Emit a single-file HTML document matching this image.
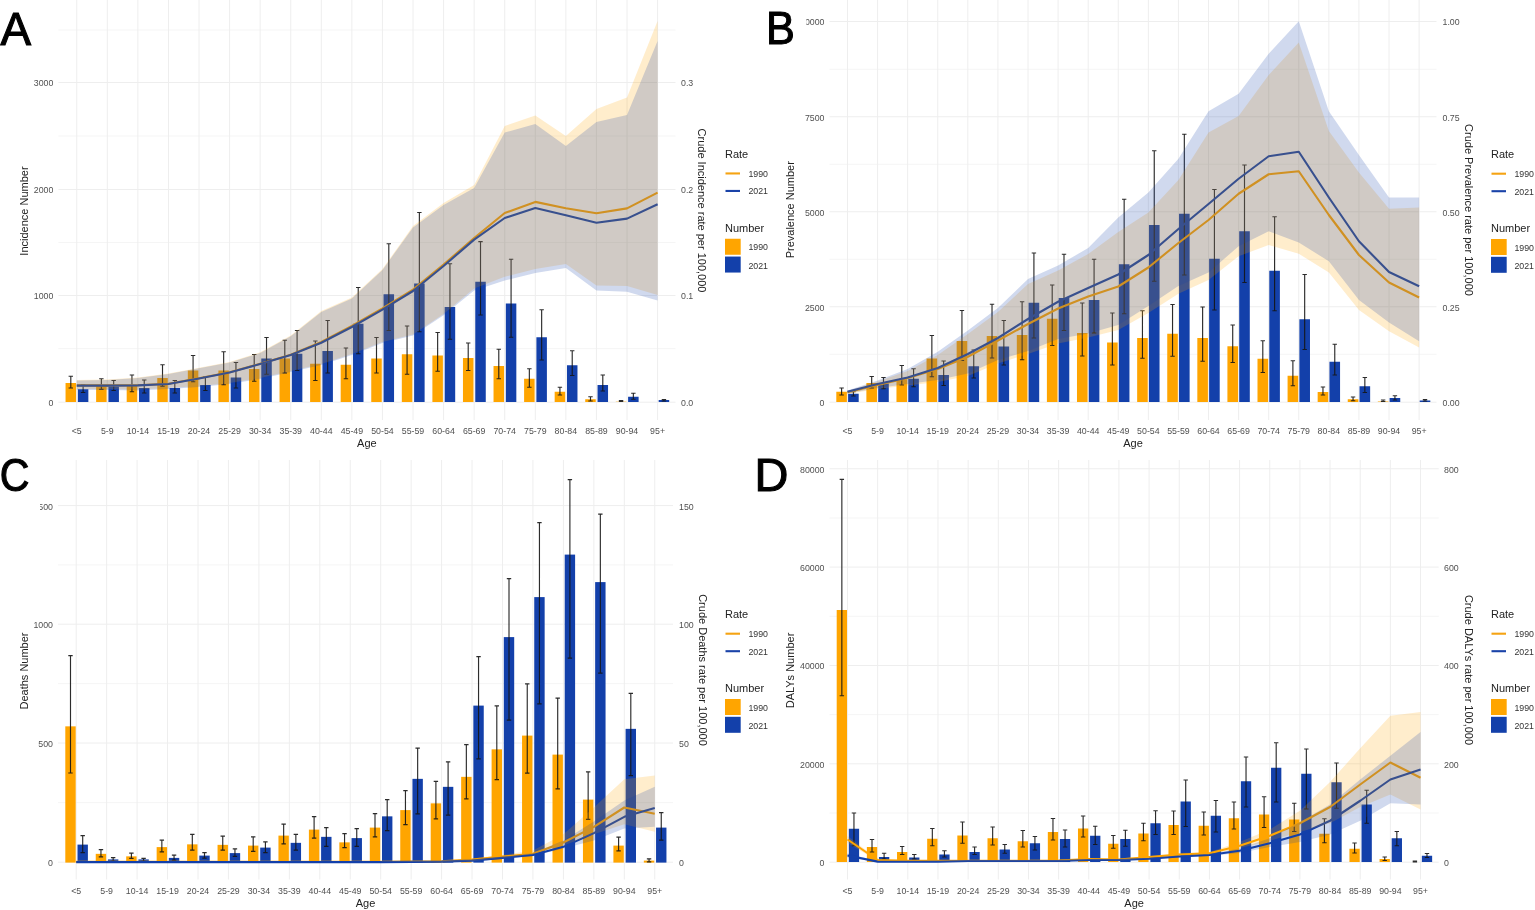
<!DOCTYPE html>
<html lang="en"><head><meta charset="utf-8"><title>Figure</title>
<style>
html,body{margin:0;padding:0;background:#fff;}
body{width:1535px;height:910px;overflow:hidden;}
svg{display:block;filter:blur(0.6px);font-family:"Liberation Sans",sans-serif;}
</style></head><body>
<svg width="1535" height="910" viewBox="0 0 1535 910">
<rect width="1535" height="910" fill="#ffffff"/>
<g>
<line x1="58.4" x2="675.5" y1="348.6" y2="348.6" stroke="#f1f1f1" stroke-width="0.7"/>
<line x1="58.4" x2="675.5" y1="242.5" y2="242.5" stroke="#f1f1f1" stroke-width="0.7"/>
<line x1="58.4" x2="675.5" y1="136" y2="136" stroke="#f1f1f1" stroke-width="0.7"/>
<line x1="58.4" x2="675.5" y1="30" y2="30" stroke="#f1f1f1" stroke-width="0.7"/>
<line x1="58.4" x2="675.5" y1="402.2" y2="402.2" stroke="#eeeeee" stroke-width="1"/>
<line x1="58.4" x2="675.5" y1="295.5" y2="295.5" stroke="#eeeeee" stroke-width="1"/>
<line x1="58.4" x2="675.5" y1="189.5" y2="189.5" stroke="#eeeeee" stroke-width="1"/>
<line x1="58.4" x2="675.5" y1="82.5" y2="82.5" stroke="#eeeeee" stroke-width="1"/>
<line x1="76.75" x2="76.75" y1="0" y2="420" stroke="#eeeeee" stroke-width="1"/>
<line x1="107.32" x2="107.32" y1="0" y2="420" stroke="#eeeeee" stroke-width="1"/>
<line x1="137.89" x2="137.89" y1="0" y2="420" stroke="#eeeeee" stroke-width="1"/>
<line x1="168.46" x2="168.46" y1="0" y2="420" stroke="#eeeeee" stroke-width="1"/>
<line x1="199.03" x2="199.03" y1="0" y2="420" stroke="#eeeeee" stroke-width="1"/>
<line x1="229.60" x2="229.60" y1="0" y2="420" stroke="#eeeeee" stroke-width="1"/>
<line x1="260.17" x2="260.17" y1="0" y2="420" stroke="#eeeeee" stroke-width="1"/>
<line x1="290.74" x2="290.74" y1="0" y2="420" stroke="#eeeeee" stroke-width="1"/>
<line x1="321.31" x2="321.31" y1="0" y2="420" stroke="#eeeeee" stroke-width="1"/>
<line x1="351.88" x2="351.88" y1="0" y2="420" stroke="#eeeeee" stroke-width="1"/>
<line x1="382.45" x2="382.45" y1="0" y2="420" stroke="#eeeeee" stroke-width="1"/>
<line x1="413.02" x2="413.02" y1="0" y2="420" stroke="#eeeeee" stroke-width="1"/>
<line x1="443.59" x2="443.59" y1="0" y2="420" stroke="#eeeeee" stroke-width="1"/>
<line x1="474.16" x2="474.16" y1="0" y2="420" stroke="#eeeeee" stroke-width="1"/>
<line x1="504.73" x2="504.73" y1="0" y2="420" stroke="#eeeeee" stroke-width="1"/>
<line x1="535.30" x2="535.30" y1="0" y2="420" stroke="#eeeeee" stroke-width="1"/>
<line x1="565.87" x2="565.87" y1="0" y2="420" stroke="#eeeeee" stroke-width="1"/>
<line x1="596.44" x2="596.44" y1="0" y2="420" stroke="#eeeeee" stroke-width="1"/>
<line x1="627.01" x2="627.01" y1="0" y2="420" stroke="#eeeeee" stroke-width="1"/>
<line x1="657.58" x2="657.58" y1="0" y2="420" stroke="#eeeeee" stroke-width="1"/>
<rect x="65.55" y="383.00" width="10.5" height="19.00" fill="#FFA500"/>
<rect x="77.85" y="389.25" width="10.5" height="12.75" fill="#1340AA"/>
<rect x="96.12" y="386.00" width="10.5" height="16.00" fill="#FFA500"/>
<rect x="108.42" y="386.50" width="10.5" height="15.50" fill="#1340AA"/>
<rect x="126.69" y="386.00" width="10.5" height="16.00" fill="#FFA500"/>
<rect x="138.99" y="388.00" width="10.5" height="14.00" fill="#1340AA"/>
<rect x="157.26" y="378.00" width="10.5" height="24.00" fill="#FFA500"/>
<rect x="169.56" y="388.00" width="10.5" height="14.00" fill="#1340AA"/>
<rect x="187.83" y="370.50" width="10.5" height="31.50" fill="#FFA500"/>
<rect x="200.13" y="385.00" width="10.5" height="17.00" fill="#1340AA"/>
<rect x="218.40" y="370.50" width="10.5" height="31.50" fill="#FFA500"/>
<rect x="230.70" y="377.50" width="10.5" height="24.50" fill="#1340AA"/>
<rect x="248.97" y="369.00" width="10.5" height="33.00" fill="#FFA500"/>
<rect x="261.27" y="358.50" width="10.5" height="43.50" fill="#1340AA"/>
<rect x="279.54" y="358.50" width="10.5" height="43.50" fill="#FFA500"/>
<rect x="291.84" y="353.75" width="10.5" height="48.25" fill="#1340AA"/>
<rect x="310.11" y="363.75" width="10.5" height="38.25" fill="#FFA500"/>
<rect x="322.41" y="351.00" width="10.5" height="51.00" fill="#1340AA"/>
<rect x="340.68" y="364.75" width="10.5" height="37.25" fill="#FFA500"/>
<rect x="352.98" y="323.75" width="10.5" height="78.25" fill="#1340AA"/>
<rect x="371.25" y="358.50" width="10.5" height="43.50" fill="#FFA500"/>
<rect x="383.55" y="294.25" width="10.5" height="107.75" fill="#1340AA"/>
<rect x="401.82" y="354.25" width="10.5" height="47.75" fill="#FFA500"/>
<rect x="414.12" y="283.50" width="10.5" height="118.50" fill="#1340AA"/>
<rect x="432.39" y="355.50" width="10.5" height="46.50" fill="#FFA500"/>
<rect x="444.69" y="307.00" width="10.5" height="95.00" fill="#1340AA"/>
<rect x="462.96" y="358.00" width="10.5" height="44.00" fill="#FFA500"/>
<rect x="475.26" y="281.75" width="10.5" height="120.25" fill="#1340AA"/>
<rect x="493.53" y="366.00" width="10.5" height="36.00" fill="#FFA500"/>
<rect x="505.83" y="303.50" width="10.5" height="98.50" fill="#1340AA"/>
<rect x="524.10" y="378.75" width="10.5" height="23.25" fill="#FFA500"/>
<rect x="536.40" y="337.25" width="10.5" height="64.75" fill="#1340AA"/>
<rect x="554.67" y="391.75" width="10.5" height="10.25" fill="#FFA500"/>
<rect x="566.97" y="365.25" width="10.5" height="36.75" fill="#1340AA"/>
<rect x="585.24" y="399.25" width="10.5" height="2.75" fill="#FFA500"/>
<rect x="597.54" y="385.00" width="10.5" height="17.00" fill="#1340AA"/>
<rect x="615.81" y="401.70" width="10.5" height="0.30" fill="#FFA500"/>
<rect x="628.11" y="396.75" width="10.5" height="5.25" fill="#1340AA"/>
<rect x="658.68" y="400.00" width="10.5" height="2.00" fill="#1340AA"/>
<path d="M70.80 376.25V388.00M68.60 376.25h4.4M68.60 388.00h4.4M83.10 385.00V392.50M80.90 385.00h4.4M80.90 392.50h4.4M101.37 378.75V389.25M99.17 378.75h4.4M99.17 389.25h4.4M113.67 380.50V390.50M111.47 380.50h4.4M111.47 390.50h4.4M131.94 375.00V391.75M129.74 375.00h4.4M129.74 391.75h4.4M144.24 380.00V393.00M142.04 380.00h4.4M142.04 393.00h4.4M162.51 364.75V386.25M160.31 364.75h4.4M160.31 386.25h4.4M174.81 380.50V393.00M172.61 380.50h4.4M172.61 393.00h4.4M193.08 355.50V381.75M190.88 355.50h4.4M190.88 381.75h4.4M205.38 376.75V390.50M203.18 376.75h4.4M203.18 390.50h4.4M223.65 351.75V384.75M221.45 351.75h4.4M221.45 384.75h4.4M235.95 362.50V388.00M233.75 362.50h4.4M233.75 388.00h4.4M254.22 354.50V381.25M252.02 354.50h4.4M252.02 381.25h4.4M266.52 337.50V374.25M264.32 337.50h4.4M264.32 374.25h4.4M284.79 340.25V373.00M282.59 340.25h4.4M282.59 373.00h4.4M297.09 330.50V370.50M294.89 330.50h4.4M294.89 370.50h4.4M315.36 341.00V380.50M313.16 341.00h4.4M313.16 380.50h4.4M327.66 320.50V373.00M325.46 320.50h4.4M325.46 373.00h4.4M345.93 348.00V378.75M343.73 348.00h4.4M343.73 378.75h4.4M358.23 287.50V353.75M356.03 287.50h4.4M356.03 353.75h4.4M376.50 337.50V373.00M374.30 337.50h4.4M374.30 373.00h4.4M388.80 243.75V330.50M386.60 243.75h4.4M386.60 330.50h4.4M407.07 326.00V374.25M404.87 326.00h4.4M404.87 374.25h4.4M419.37 212.50V331.75M417.17 212.50h4.4M417.17 331.75h4.4M437.64 332.50V371.25M435.44 332.50h4.4M435.44 371.25h4.4M449.94 263.75V339.25M447.74 263.75h4.4M447.74 339.25h4.4M468.21 343.00V370.50M466.01 343.00h4.4M466.01 370.50h4.4M480.51 241.60V315.00M478.31 241.60h4.4M478.31 315.00h4.4M498.78 349.25V378.75M496.58 349.25h4.4M496.58 378.75h4.4M511.08 259.25V337.25M508.88 259.25h4.4M508.88 337.25h4.4M529.35 368.75V387.25M527.15 368.75h4.4M527.15 387.25h4.4M541.65 309.75V360.00M539.45 309.75h4.4M539.45 360.00h4.4M559.92 387.25V395.00M557.72 387.25h4.4M557.72 395.00h4.4M572.22 350.75V375.50M570.02 350.75h4.4M570.02 375.50h4.4M590.49 396.75V401.00M588.29 396.75h4.4M588.29 401.00h4.4M602.79 375.00V391.00M600.59 375.00h4.4M600.59 391.00h4.4M621.06 400.50V401.50M618.86 400.50h4.4M618.86 401.50h4.4M633.36 393.25V399.25M631.16 393.25h4.4M631.16 399.25h4.4M663.93 399.50V401.00M661.73 399.50h4.4M661.73 401.00h4.4" stroke="#151515" stroke-width="1.15" fill="none" opacity="0.9"/>
<polyline points="76.75,385.40 107.32,385.40 137.89,385.20 168.46,383.80 199.03,378.30 229.60,372.30 260.17,363.80 290.74,354.80 321.31,342.00 351.88,326.00 382.45,308.30 413.02,289.60 443.59,264.60 474.16,238.00 504.73,213.00 535.30,201.90 565.87,208.20 596.44,213.20 627.01,208.40 657.58,192.60" fill="none" stroke="#FFA500" stroke-width="2.1" stroke-linejoin="round"/>
<polyline points="76.75,385.60 107.32,385.60 137.89,385.40 168.46,384.00 199.03,378.50 229.60,372.50 260.17,364.00 290.74,355.00 321.31,342.80 351.88,327.00 382.45,309.60 413.02,291.00 443.59,266.00 474.16,239.60 504.73,218.00 535.30,208.00 565.87,215.20 596.44,222.70 627.01,218.60 657.58,204.30" fill="none" stroke="#1340AA" stroke-width="2.1" stroke-linejoin="round"/>
<polygon points="76.75,380.00 107.32,379.50 137.89,377.50 168.46,373.50 199.03,367.80 229.60,362.00 260.17,352.30 290.74,335.40 321.31,311.00 351.88,297.50 382.45,269.00 413.02,226.00 443.59,203.00 474.16,185.00 504.73,126.00 535.30,115.50 565.87,136.00 596.44,109.00 627.01,97.50 657.58,21.00 657.58,295.00 627.01,286.00 596.44,285.50 565.87,264.00 535.30,269.00 504.73,276.75 474.16,288.50 443.59,314.00 413.02,334.40 382.45,342.00 351.88,354.00 321.31,364.00 290.74,371.00 260.17,378.00 229.60,383.00 199.03,386.00 168.46,388.00 137.89,389.50 107.32,389.00 76.75,389.00" fill="#FFA500" fill-opacity="0.2"/>
<polygon points="76.75,380.50 107.32,380.00 137.89,378.00 168.46,374.00 199.03,368.30 229.60,362.50 260.17,353.00 290.74,336.20 321.31,312.00 351.88,298.50 382.45,270.00 413.02,227.50 443.59,205.00 474.16,188.00 504.73,132.50 535.30,124.00 565.87,146.00 596.44,122.00 627.01,115.00 657.58,41.00 657.58,300.50 627.01,291.75 596.44,290.50 565.87,268.00 535.30,273.00 504.73,280.50 474.16,290.50 443.59,315.30 413.02,335.40 382.45,343.00 351.88,355.00 321.31,365.00 290.74,372.00 260.17,379.00 229.60,384.00 199.03,387.00 168.46,389.00 137.89,390.50 107.32,390.00 76.75,390.00" fill="#1340AA" fill-opacity="0.2"/>
<text x="53.4" y="406.1" text-anchor="end" font-size="8.8" fill="#505050">0</text>
<text x="681.0" y="406.1" font-size="8.8" fill="#505050">0.0</text>
<text x="53.4" y="299.4" text-anchor="end" font-size="8.8" fill="#505050">1000</text>
<text x="681.0" y="299.4" font-size="8.8" fill="#505050">0.1</text>
<text x="53.4" y="193.4" text-anchor="end" font-size="8.8" fill="#505050">2000</text>
<text x="681.0" y="193.4" font-size="8.8" fill="#505050">0.2</text>
<text x="53.4" y="86.4" text-anchor="end" font-size="8.8" fill="#505050">3000</text>
<text x="681.0" y="86.4" font-size="8.8" fill="#505050">0.3</text>
<text x="76.75" y="433.9" text-anchor="middle" font-size="8.8" fill="#505050">&lt;5</text>
<text x="107.32" y="433.9" text-anchor="middle" font-size="8.8" fill="#505050">5-9</text>
<text x="137.89" y="433.9" text-anchor="middle" font-size="8.8" fill="#505050">10-14</text>
<text x="168.46" y="433.9" text-anchor="middle" font-size="8.8" fill="#505050">15-19</text>
<text x="199.03" y="433.9" text-anchor="middle" font-size="8.8" fill="#505050">20-24</text>
<text x="229.60" y="433.9" text-anchor="middle" font-size="8.8" fill="#505050">25-29</text>
<text x="260.17" y="433.9" text-anchor="middle" font-size="8.8" fill="#505050">30-34</text>
<text x="290.74" y="433.9" text-anchor="middle" font-size="8.8" fill="#505050">35-39</text>
<text x="321.31" y="433.9" text-anchor="middle" font-size="8.8" fill="#505050">40-44</text>
<text x="351.88" y="433.9" text-anchor="middle" font-size="8.8" fill="#505050">45-49</text>
<text x="382.45" y="433.9" text-anchor="middle" font-size="8.8" fill="#505050">50-54</text>
<text x="413.02" y="433.9" text-anchor="middle" font-size="8.8" fill="#505050">55-59</text>
<text x="443.59" y="433.9" text-anchor="middle" font-size="8.8" fill="#505050">60-64</text>
<text x="474.16" y="433.9" text-anchor="middle" font-size="8.8" fill="#505050">65-69</text>
<text x="504.73" y="433.9" text-anchor="middle" font-size="8.8" fill="#505050">70-74</text>
<text x="535.30" y="433.9" text-anchor="middle" font-size="8.8" fill="#505050">75-79</text>
<text x="565.87" y="433.9" text-anchor="middle" font-size="8.8" fill="#505050">80-84</text>
<text x="596.44" y="433.9" text-anchor="middle" font-size="8.8" fill="#505050">85-89</text>
<text x="627.01" y="433.9" text-anchor="middle" font-size="8.8" fill="#505050">90-94</text>
<text x="657.58" y="433.9" text-anchor="middle" font-size="8.8" fill="#505050">95+</text>
<text x="366.9" y="447.0" text-anchor="middle" font-size="11" fill="#222">Age</text>
<text transform="translate(28,211) rotate(-90)" text-anchor="middle" font-size="11" fill="#222">Incidence Number</text>
<text transform="translate(698,210.5) rotate(90)" text-anchor="middle" font-size="11" fill="#222">Crude Incidence rate per 100,000</text>
<text x="725" y="157.75" font-size="11" fill="#222">Rate</text>
<line x1="725.5" x2="740" y1="173.45" y2="173.45" stroke="#F5A313" stroke-width="2.1"/>
<line x1="725.5" x2="740" y1="190.95" y2="190.95" stroke="#1A43A8" stroke-width="2.1"/>
<text x="748.4" y="176.64999999999998" font-size="8.8" fill="#333">1990</text>
<text x="748.4" y="194.25" font-size="8.8" fill="#333">2021</text>
<text x="725" y="231.75" font-size="11" fill="#222">Number</text>
<rect x="725" y="238.75" width="15.7" height="16" fill="#FFA500"/>
<rect x="725" y="256.55" width="15.7" height="16" fill="#1340AA"/>
<text x="748.4" y="250.45" font-size="8.8" fill="#333">1990</text>
<text x="748.4" y="268.75" font-size="8.8" fill="#333">2021</text>
<text transform="translate(0.4,44.6) scale(0.975,1)" font-size="47" fill="#000" stroke="#000" stroke-width="1.1">A</text>
</g>
<g>
<line x1="829.5" x2="1436.5" y1="354.25" y2="354.25" stroke="#f1f1f1" stroke-width="0.7"/>
<line x1="829.5" x2="1436.5" y1="259.25" y2="259.25" stroke="#f1f1f1" stroke-width="0.7"/>
<line x1="829.5" x2="1436.5" y1="164.25" y2="164.25" stroke="#f1f1f1" stroke-width="0.7"/>
<line x1="829.5" x2="1436.5" y1="69.25" y2="69.25" stroke="#f1f1f1" stroke-width="0.7"/>
<line x1="829.5" x2="1436.5" y1="402.2" y2="402.2" stroke="#eeeeee" stroke-width="1"/>
<line x1="829.5" x2="1436.5" y1="306.75" y2="306.75" stroke="#eeeeee" stroke-width="1"/>
<line x1="829.5" x2="1436.5" y1="211.75" y2="211.75" stroke="#eeeeee" stroke-width="1"/>
<line x1="829.5" x2="1436.5" y1="116.75" y2="116.75" stroke="#eeeeee" stroke-width="1"/>
<line x1="829.5" x2="1436.5" y1="21.5" y2="21.5" stroke="#eeeeee" stroke-width="1"/>
<line x1="847.50" x2="847.50" y1="0" y2="420" stroke="#eeeeee" stroke-width="1"/>
<line x1="877.59" x2="877.59" y1="0" y2="420" stroke="#eeeeee" stroke-width="1"/>
<line x1="907.67" x2="907.67" y1="0" y2="420" stroke="#eeeeee" stroke-width="1"/>
<line x1="937.75" x2="937.75" y1="0" y2="420" stroke="#eeeeee" stroke-width="1"/>
<line x1="967.84" x2="967.84" y1="0" y2="420" stroke="#eeeeee" stroke-width="1"/>
<line x1="997.92" x2="997.92" y1="0" y2="420" stroke="#eeeeee" stroke-width="1"/>
<line x1="1028.01" x2="1028.01" y1="0" y2="420" stroke="#eeeeee" stroke-width="1"/>
<line x1="1058.10" x2="1058.10" y1="0" y2="420" stroke="#eeeeee" stroke-width="1"/>
<line x1="1088.18" x2="1088.18" y1="0" y2="420" stroke="#eeeeee" stroke-width="1"/>
<line x1="1118.26" x2="1118.26" y1="0" y2="420" stroke="#eeeeee" stroke-width="1"/>
<line x1="1148.35" x2="1148.35" y1="0" y2="420" stroke="#eeeeee" stroke-width="1"/>
<line x1="1178.43" x2="1178.43" y1="0" y2="420" stroke="#eeeeee" stroke-width="1"/>
<line x1="1208.52" x2="1208.52" y1="0" y2="420" stroke="#eeeeee" stroke-width="1"/>
<line x1="1238.61" x2="1238.61" y1="0" y2="420" stroke="#eeeeee" stroke-width="1"/>
<line x1="1268.69" x2="1268.69" y1="0" y2="420" stroke="#eeeeee" stroke-width="1"/>
<line x1="1298.78" x2="1298.78" y1="0" y2="420" stroke="#eeeeee" stroke-width="1"/>
<line x1="1328.86" x2="1328.86" y1="0" y2="420" stroke="#eeeeee" stroke-width="1"/>
<line x1="1358.94" x2="1358.94" y1="0" y2="420" stroke="#eeeeee" stroke-width="1"/>
<line x1="1389.03" x2="1389.03" y1="0" y2="420" stroke="#eeeeee" stroke-width="1"/>
<line x1="1419.12" x2="1419.12" y1="0" y2="420" stroke="#eeeeee" stroke-width="1"/>
<rect x="836.30" y="391.75" width="10.6" height="10.25" fill="#FFA500"/>
<rect x="848.10" y="393.75" width="10.6" height="8.25" fill="#1340AA"/>
<rect x="866.38" y="383.00" width="10.6" height="19.00" fill="#FFA500"/>
<rect x="878.19" y="383.50" width="10.6" height="18.50" fill="#1340AA"/>
<rect x="896.47" y="379.25" width="10.6" height="22.75" fill="#FFA500"/>
<rect x="908.27" y="378.75" width="10.6" height="23.25" fill="#1340AA"/>
<rect x="926.55" y="358.50" width="10.6" height="43.50" fill="#FFA500"/>
<rect x="938.36" y="375.00" width="10.6" height="27.00" fill="#1340AA"/>
<rect x="956.64" y="341.00" width="10.6" height="61.00" fill="#FFA500"/>
<rect x="968.44" y="366.25" width="10.6" height="35.75" fill="#1340AA"/>
<rect x="986.72" y="336.00" width="10.6" height="66.00" fill="#FFA500"/>
<rect x="998.52" y="346.50" width="10.6" height="55.50" fill="#1340AA"/>
<rect x="1016.81" y="335.00" width="10.6" height="67.00" fill="#FFA500"/>
<rect x="1028.61" y="302.75" width="10.6" height="99.25" fill="#1340AA"/>
<rect x="1046.90" y="318.75" width="10.6" height="83.25" fill="#FFA500"/>
<rect x="1058.69" y="298.00" width="10.6" height="104.00" fill="#1340AA"/>
<rect x="1076.98" y="333.00" width="10.6" height="69.00" fill="#FFA500"/>
<rect x="1088.78" y="300.00" width="10.6" height="102.00" fill="#1340AA"/>
<rect x="1107.07" y="342.50" width="10.6" height="59.50" fill="#FFA500"/>
<rect x="1118.86" y="264.25" width="10.6" height="137.75" fill="#1340AA"/>
<rect x="1137.15" y="338.00" width="10.6" height="64.00" fill="#FFA500"/>
<rect x="1148.95" y="225.00" width="10.6" height="177.00" fill="#1340AA"/>
<rect x="1167.24" y="333.75" width="10.6" height="68.25" fill="#FFA500"/>
<rect x="1179.03" y="213.75" width="10.6" height="188.25" fill="#1340AA"/>
<rect x="1197.32" y="338.00" width="10.6" height="64.00" fill="#FFA500"/>
<rect x="1209.12" y="258.75" width="10.6" height="143.25" fill="#1340AA"/>
<rect x="1227.41" y="346.25" width="10.6" height="55.75" fill="#FFA500"/>
<rect x="1239.20" y="231.25" width="10.6" height="170.75" fill="#1340AA"/>
<rect x="1257.49" y="358.75" width="10.6" height="43.25" fill="#FFA500"/>
<rect x="1269.29" y="270.75" width="10.6" height="131.25" fill="#1340AA"/>
<rect x="1287.58" y="375.75" width="10.6" height="26.25" fill="#FFA500"/>
<rect x="1299.38" y="319.25" width="10.6" height="82.75" fill="#1340AA"/>
<rect x="1317.66" y="392.00" width="10.6" height="10.00" fill="#FFA500"/>
<rect x="1329.46" y="361.75" width="10.6" height="40.25" fill="#1340AA"/>
<rect x="1347.75" y="399.25" width="10.6" height="2.75" fill="#FFA500"/>
<rect x="1359.54" y="386.25" width="10.6" height="15.75" fill="#1340AA"/>
<rect x="1377.83" y="401.50" width="10.6" height="0.50" fill="#FFA500"/>
<rect x="1389.63" y="398.00" width="10.6" height="4.00" fill="#1340AA"/>
<rect x="1419.71" y="400.50" width="10.6" height="1.50" fill="#1340AA"/>
<path d="M841.60 388.00V395.00M839.40 388.00h4.4M839.40 395.00h4.4M853.40 391.75V396.00M851.20 391.75h4.4M851.20 396.00h4.4M871.69 376.50V388.00M869.49 376.50h4.4M869.49 388.00h4.4M883.49 377.50V388.75M881.28 377.50h4.4M881.28 388.75h4.4M901.77 365.50V385.00M899.57 365.50h4.4M899.57 385.00h4.4M913.57 368.75V386.75M911.37 368.75h4.4M911.37 386.75h4.4M931.86 335.50V376.75M929.65 335.50h4.4M929.65 376.75h4.4M943.65 361.00V385.50M941.45 361.00h4.4M941.45 385.50h4.4M961.94 310.50V360.50M959.74 310.50h4.4M959.74 360.50h4.4M973.74 350.00V378.00M971.54 350.00h4.4M971.54 378.00h4.4M992.02 304.25V358.00M989.82 304.25h4.4M989.82 358.00h4.4M1003.82 320.50V365.00M1001.62 320.50h4.4M1001.62 365.00h4.4M1022.11 301.75V359.75M1019.91 301.75h4.4M1019.91 359.75h4.4M1033.91 253.00V338.00M1031.71 253.00h4.4M1031.71 338.00h4.4M1052.20 285.00V345.50M1050.00 285.00h4.4M1050.00 345.50h4.4M1063.99 254.25V330.50M1061.79 254.25h4.4M1061.79 330.50h4.4M1082.28 303.00V356.00M1080.08 303.00h4.4M1080.08 356.00h4.4M1094.08 259.25V333.00M1091.88 259.25h4.4M1091.88 333.00h4.4M1112.37 313.00V365.00M1110.16 313.00h4.4M1110.16 365.00h4.4M1124.16 199.25V313.75M1121.96 199.25h4.4M1121.96 313.75h4.4M1142.45 310.75V358.25M1140.25 310.75h4.4M1140.25 358.25h4.4M1154.25 150.75V281.25M1152.05 150.75h4.4M1152.05 281.25h4.4M1172.54 304.50V356.25M1170.34 304.50h4.4M1170.34 356.25h4.4M1184.33 134.25V275.00M1182.13 134.25h4.4M1182.13 275.00h4.4M1202.62 307.00V361.25M1200.42 307.00h4.4M1200.42 361.25h4.4M1214.42 189.50V310.00M1212.22 189.50h4.4M1212.22 310.00h4.4M1232.71 325.00V362.50M1230.51 325.00h4.4M1230.51 362.50h4.4M1244.50 165.00V282.50M1242.30 165.00h4.4M1242.30 282.50h4.4M1262.79 340.75V372.50M1260.59 340.75h4.4M1260.59 372.50h4.4M1274.59 216.75V310.75M1272.39 216.75h4.4M1272.39 310.75h4.4M1292.88 360.75V385.75M1290.68 360.75h4.4M1290.68 385.75h4.4M1304.67 274.50V349.50M1302.47 274.50h4.4M1302.47 349.50h4.4M1322.96 387.00V395.00M1320.76 387.00h4.4M1320.76 395.00h4.4M1334.76 344.25V375.00M1332.56 344.25h4.4M1332.56 375.00h4.4M1353.05 397.00V400.75M1350.85 397.00h4.4M1350.85 400.75h4.4M1364.84 377.50V392.50M1362.64 377.50h4.4M1362.64 392.50h4.4M1383.13 400.00V401.50M1380.93 400.00h4.4M1380.93 401.50h4.4M1394.93 395.75V400.00M1392.73 395.75h4.4M1392.73 400.00h4.4M1425.01 399.50V401.00M1422.81 399.50h4.4M1422.81 401.00h4.4" stroke="#151515" stroke-width="1.15" fill="none" opacity="0.9"/>
<polyline points="847.50,392.25 877.59,385.00 907.67,378.00 937.75,369.00 967.84,356.75 997.92,340.50 1028.01,324.00 1058.10,308.50 1088.18,296.50 1118.26,286.50 1148.35,267.50 1178.43,243.00 1208.52,220.00 1238.61,193.75 1268.69,174.25 1298.78,171.25 1328.86,215.00 1358.94,255.00 1389.03,282.50 1419.12,297.50" fill="none" stroke="#FFA500" stroke-width="2.1" stroke-linejoin="round"/>
<polyline points="847.50,391.75 877.59,384.00 907.67,377.50 937.75,368.00 967.84,354.00 997.92,338.00 1028.01,319.00 1058.10,301.75 1088.18,288.00 1118.26,274.50 1148.35,255.00 1178.43,229.00 1208.52,204.00 1238.61,178.75 1268.69,156.25 1298.78,151.75 1328.86,197.50 1358.94,241.25 1389.03,272.00 1419.12,286.25" fill="none" stroke="#1340AA" stroke-width="2.1" stroke-linejoin="round"/>
<polygon points="847.50,391.00 877.59,381.50 907.67,371.00 937.75,355.00 967.84,334.00 997.92,312.00 1028.01,284.00 1058.10,270.50 1088.18,254.00 1118.26,232.00 1148.35,212.50 1178.43,180.00 1208.52,132.50 1238.61,116.00 1268.69,75.00 1298.78,42.50 1328.86,131.00 1358.94,172.50 1389.03,208.75 1419.12,207.50 1419.12,347.50 1389.03,331.25 1358.94,310.00 1328.86,272.50 1298.78,253.75 1268.69,245.00 1238.61,256.25 1208.52,280.00 1178.43,293.75 1148.35,313.00 1118.26,330.00 1088.18,337.60 1058.10,343.40 1028.01,354.00 997.92,363.50 967.84,376.00 937.75,382.00 907.67,385.50 877.59,389.00 847.50,394.00" fill="#FFA500" fill-opacity="0.2"/>
<polygon points="847.50,390.50 877.59,380.50 907.67,369.00 937.75,351.75 967.84,330.50 997.92,308.00 1028.01,279.00 1058.10,265.50 1088.18,248.00 1118.26,217.50 1148.35,192.50 1178.43,158.75 1208.52,111.25 1238.61,93.75 1268.69,53.75 1298.78,21.25 1328.86,111.25 1358.94,155.00 1389.03,197.50 1419.12,197.50 1419.12,341.25 1389.03,322.50 1358.94,300.00 1328.86,261.25 1298.78,242.50 1268.69,231.25 1238.61,246.25 1208.52,272.50 1178.43,286.00 1148.35,306.00 1118.26,325.00 1088.18,333.40 1058.10,339.00 1028.01,351.00 997.92,360.00 967.84,373.50 937.75,380.00 907.67,384.00 877.59,388.00 847.50,393.50" fill="#1340AA" fill-opacity="0.2"/>
<text x="824.5" y="406.1" text-anchor="end" font-size="8.8" fill="#505050">0</text>
<text x="1442.5" y="406.1" font-size="8.8" fill="#505050">0.00</text>
<text x="824.5" y="310.6" text-anchor="end" font-size="8.8" fill="#505050">2500</text>
<text x="1442.5" y="310.6" font-size="8.8" fill="#505050">0.25</text>
<text x="824.5" y="215.7" text-anchor="end" font-size="8.8" fill="#505050">5000</text>
<text x="1442.5" y="215.7" font-size="8.8" fill="#505050">0.50</text>
<text x="824.5" y="120.7" text-anchor="end" font-size="8.8" fill="#505050">7500</text>
<text x="1442.5" y="120.7" font-size="8.8" fill="#505050">0.75</text>
<text x="824.5" y="25.4" text-anchor="end" font-size="8.8" fill="#505050">10000</text>
<text x="1442.5" y="25.4" font-size="8.8" fill="#505050">1.00</text>
<text x="847.50" y="433.9" text-anchor="middle" font-size="8.8" fill="#505050">&lt;5</text>
<text x="877.59" y="433.9" text-anchor="middle" font-size="8.8" fill="#505050">5-9</text>
<text x="907.67" y="433.9" text-anchor="middle" font-size="8.8" fill="#505050">10-14</text>
<text x="937.75" y="433.9" text-anchor="middle" font-size="8.8" fill="#505050">15-19</text>
<text x="967.84" y="433.9" text-anchor="middle" font-size="8.8" fill="#505050">20-24</text>
<text x="997.92" y="433.9" text-anchor="middle" font-size="8.8" fill="#505050">25-29</text>
<text x="1028.01" y="433.9" text-anchor="middle" font-size="8.8" fill="#505050">30-34</text>
<text x="1058.10" y="433.9" text-anchor="middle" font-size="8.8" fill="#505050">35-39</text>
<text x="1088.18" y="433.9" text-anchor="middle" font-size="8.8" fill="#505050">40-44</text>
<text x="1118.26" y="433.9" text-anchor="middle" font-size="8.8" fill="#505050">45-49</text>
<text x="1148.35" y="433.9" text-anchor="middle" font-size="8.8" fill="#505050">50-54</text>
<text x="1178.43" y="433.9" text-anchor="middle" font-size="8.8" fill="#505050">55-59</text>
<text x="1208.52" y="433.9" text-anchor="middle" font-size="8.8" fill="#505050">60-64</text>
<text x="1238.61" y="433.9" text-anchor="middle" font-size="8.8" fill="#505050">65-69</text>
<text x="1268.69" y="433.9" text-anchor="middle" font-size="8.8" fill="#505050">70-74</text>
<text x="1298.78" y="433.9" text-anchor="middle" font-size="8.8" fill="#505050">75-79</text>
<text x="1328.86" y="433.9" text-anchor="middle" font-size="8.8" fill="#505050">80-84</text>
<text x="1358.94" y="433.9" text-anchor="middle" font-size="8.8" fill="#505050">85-89</text>
<text x="1389.03" y="433.9" text-anchor="middle" font-size="8.8" fill="#505050">90-94</text>
<text x="1419.12" y="433.9" text-anchor="middle" font-size="8.8" fill="#505050">95+</text>
<text x="1133.0" y="447.0" text-anchor="middle" font-size="11" fill="#222">Age</text>
<text transform="translate(793.5,209.75) rotate(-90)" text-anchor="middle" font-size="11" fill="#222">Prevalence Number</text>
<text transform="translate(1464.7,210) rotate(90)" text-anchor="middle" font-size="11" fill="#222">Crude Prevalence rate per 100,000</text>
<text x="1491" y="158" font-size="11" fill="#222">Rate</text>
<line x1="1491.5" x2="1506" y1="173.7" y2="173.7" stroke="#F5A313" stroke-width="2.1"/>
<line x1="1491.5" x2="1506" y1="191.2" y2="191.2" stroke="#1A43A8" stroke-width="2.1"/>
<text x="1514.4" y="176.89999999999998" font-size="8.8" fill="#333">1990</text>
<text x="1514.4" y="194.5" font-size="8.8" fill="#333">2021</text>
<text x="1491" y="232" font-size="11" fill="#222">Number</text>
<rect x="1491" y="239" width="15.7" height="16" fill="#FFA500"/>
<rect x="1491" y="256.8" width="15.7" height="16" fill="#1340AA"/>
<text x="1514.4" y="250.7" font-size="8.8" fill="#333">1990</text>
<text x="1514.4" y="269.0" font-size="8.8" fill="#333">2021</text>
<rect x="765" y="0" width="41.3" height="60" fill="#fff"/>
<text transform="translate(765.9,44.2) scale(0.92,1)" font-size="47" fill="#000" stroke="#000" stroke-width="1.1">B</text>
</g>
<g>
<line x1="58.0" x2="673" y1="802.6" y2="802.6" stroke="#f1f1f1" stroke-width="0.7"/>
<line x1="58.0" x2="673" y1="683.6" y2="683.6" stroke="#f1f1f1" stroke-width="0.7"/>
<line x1="58.0" x2="673" y1="564.9" y2="564.9" stroke="#f1f1f1" stroke-width="0.7"/>
<line x1="58.0" x2="673" y1="862.2" y2="862.2" stroke="#eeeeee" stroke-width="1"/>
<line x1="58.0" x2="673" y1="743" y2="743" stroke="#eeeeee" stroke-width="1"/>
<line x1="58.0" x2="673" y1="624.2" y2="624.2" stroke="#eeeeee" stroke-width="1"/>
<line x1="58.0" x2="673" y1="505.6" y2="505.6" stroke="#eeeeee" stroke-width="1"/>
<line x1="76.20" x2="76.20" y1="460" y2="879.5" stroke="#eeeeee" stroke-width="1"/>
<line x1="106.65" x2="106.65" y1="460" y2="879.5" stroke="#eeeeee" stroke-width="1"/>
<line x1="137.10" x2="137.10" y1="460" y2="879.5" stroke="#eeeeee" stroke-width="1"/>
<line x1="167.55" x2="167.55" y1="460" y2="879.5" stroke="#eeeeee" stroke-width="1"/>
<line x1="198.00" x2="198.00" y1="460" y2="879.5" stroke="#eeeeee" stroke-width="1"/>
<line x1="228.45" x2="228.45" y1="460" y2="879.5" stroke="#eeeeee" stroke-width="1"/>
<line x1="258.90" x2="258.90" y1="460" y2="879.5" stroke="#eeeeee" stroke-width="1"/>
<line x1="289.35" x2="289.35" y1="460" y2="879.5" stroke="#eeeeee" stroke-width="1"/>
<line x1="319.80" x2="319.80" y1="460" y2="879.5" stroke="#eeeeee" stroke-width="1"/>
<line x1="350.25" x2="350.25" y1="460" y2="879.5" stroke="#eeeeee" stroke-width="1"/>
<line x1="380.70" x2="380.70" y1="460" y2="879.5" stroke="#eeeeee" stroke-width="1"/>
<line x1="411.15" x2="411.15" y1="460" y2="879.5" stroke="#eeeeee" stroke-width="1"/>
<line x1="441.60" x2="441.60" y1="460" y2="879.5" stroke="#eeeeee" stroke-width="1"/>
<line x1="472.05" x2="472.05" y1="460" y2="879.5" stroke="#eeeeee" stroke-width="1"/>
<line x1="502.50" x2="502.50" y1="460" y2="879.5" stroke="#eeeeee" stroke-width="1"/>
<line x1="532.95" x2="532.95" y1="460" y2="879.5" stroke="#eeeeee" stroke-width="1"/>
<line x1="563.40" x2="563.40" y1="460" y2="879.5" stroke="#eeeeee" stroke-width="1"/>
<line x1="593.85" x2="593.85" y1="460" y2="879.5" stroke="#eeeeee" stroke-width="1"/>
<line x1="624.30" x2="624.30" y1="460" y2="879.5" stroke="#eeeeee" stroke-width="1"/>
<line x1="654.75" x2="654.75" y1="460" y2="879.5" stroke="#eeeeee" stroke-width="1"/>
<rect x="65.30" y="726.35" width="10.4" height="136.25" fill="#FFA500"/>
<rect x="77.50" y="844.60" width="10.4" height="18.00" fill="#1340AA"/>
<rect x="95.75" y="853.85" width="10.4" height="8.75" fill="#FFA500"/>
<rect x="107.95" y="859.40" width="10.4" height="3.20" fill="#1340AA"/>
<rect x="126.20" y="856.35" width="10.4" height="6.25" fill="#FFA500"/>
<rect x="138.40" y="859.40" width="10.4" height="3.20" fill="#1340AA"/>
<rect x="156.65" y="847.10" width="10.4" height="15.50" fill="#FFA500"/>
<rect x="168.85" y="857.90" width="10.4" height="4.70" fill="#1340AA"/>
<rect x="187.10" y="844.35" width="10.4" height="18.25" fill="#FFA500"/>
<rect x="199.30" y="855.60" width="10.4" height="7.00" fill="#1340AA"/>
<rect x="217.55" y="844.85" width="10.4" height="17.75" fill="#FFA500"/>
<rect x="229.75" y="853.10" width="10.4" height="9.50" fill="#1340AA"/>
<rect x="248.00" y="845.60" width="10.4" height="17.00" fill="#FFA500"/>
<rect x="260.20" y="847.60" width="10.4" height="15.00" fill="#1340AA"/>
<rect x="278.45" y="835.60" width="10.4" height="27.00" fill="#FFA500"/>
<rect x="290.65" y="842.85" width="10.4" height="19.75" fill="#1340AA"/>
<rect x="308.90" y="829.60" width="10.4" height="33.00" fill="#FFA500"/>
<rect x="321.10" y="836.85" width="10.4" height="25.75" fill="#1340AA"/>
<rect x="339.35" y="842.35" width="10.4" height="20.25" fill="#FFA500"/>
<rect x="351.55" y="838.10" width="10.4" height="24.50" fill="#1340AA"/>
<rect x="369.80" y="827.60" width="10.4" height="35.00" fill="#FFA500"/>
<rect x="382.00" y="816.35" width="10.4" height="46.25" fill="#1340AA"/>
<rect x="400.25" y="810.10" width="10.4" height="52.50" fill="#FFA500"/>
<rect x="412.45" y="778.85" width="10.4" height="83.75" fill="#1340AA"/>
<rect x="430.70" y="803.35" width="10.4" height="59.25" fill="#FFA500"/>
<rect x="442.90" y="786.85" width="10.4" height="75.75" fill="#1340AA"/>
<rect x="461.15" y="776.85" width="10.4" height="85.75" fill="#FFA500"/>
<rect x="473.35" y="705.60" width="10.4" height="157.00" fill="#1340AA"/>
<rect x="491.60" y="749.35" width="10.4" height="113.25" fill="#FFA500"/>
<rect x="503.80" y="637.10" width="10.4" height="225.50" fill="#1340AA"/>
<rect x="522.05" y="735.60" width="10.4" height="127.00" fill="#FFA500"/>
<rect x="534.25" y="597.10" width="10.4" height="265.50" fill="#1340AA"/>
<rect x="552.50" y="754.60" width="10.4" height="108.00" fill="#FFA500"/>
<rect x="564.70" y="554.60" width="10.4" height="308.00" fill="#1340AA"/>
<rect x="582.95" y="799.60" width="10.4" height="63.00" fill="#FFA500"/>
<rect x="595.15" y="582.10" width="10.4" height="280.50" fill="#1340AA"/>
<rect x="613.40" y="845.60" width="10.4" height="17.00" fill="#FFA500"/>
<rect x="625.60" y="728.85" width="10.4" height="133.75" fill="#1340AA"/>
<rect x="643.85" y="860.60" width="10.4" height="2.00" fill="#FFA500"/>
<rect x="656.05" y="827.60" width="10.4" height="35.00" fill="#1340AA"/>
<path d="M70.50 655.60V773.00M68.30 655.60h4.4M68.30 773.00h4.4M82.70 835.60V852.60M80.50 835.60h4.4M80.50 852.60h4.4M100.95 849.60V856.85M98.75 849.60h4.4M98.75 856.85h4.4M113.15 857.60V861.35M110.95 857.60h4.4M110.95 861.35h4.4M131.40 853.10V858.35M129.20 853.10h4.4M129.20 858.35h4.4M143.60 858.35V861.35M141.40 858.35h4.4M141.40 861.35h4.4M161.85 840.10V851.85M159.65 840.10h4.4M159.65 851.85h4.4M174.05 855.10V860.10M171.85 855.10h4.4M171.85 860.10h4.4M192.30 834.35V850.10M190.10 834.35h4.4M190.10 850.10h4.4M204.50 852.60V858.10M202.30 852.60h4.4M202.30 858.10h4.4M222.75 836.10V850.10M220.55 836.10h4.4M220.55 850.10h4.4M234.95 848.85V856.35M232.75 848.85h4.4M232.75 856.35h4.4M253.20 836.85V851.35M251.00 836.85h4.4M251.00 851.35h4.4M265.40 841.85V852.60M263.20 841.85h4.4M263.20 852.60h4.4M283.65 824.10V843.85M281.45 824.10h4.4M281.45 843.85h4.4M295.85 834.35V850.10M293.65 834.35h4.4M293.65 850.10h4.4M314.10 816.60V838.10M311.90 816.60h4.4M311.90 838.10h4.4M326.30 827.60V846.35M324.10 827.60h4.4M324.10 846.35h4.4M344.55 833.60V847.60M342.35 833.60h4.4M342.35 847.60h4.4M356.75 828.60V846.35M354.55 828.60h4.4M354.55 846.35h4.4M375.00 813.60V836.85M372.80 813.60h4.4M372.80 836.85h4.4M387.20 799.60V830.60M385.00 799.60h4.4M385.00 830.60h4.4M405.45 790.60V824.60M403.25 790.60h4.4M403.25 824.60h4.4M417.65 748.10V813.85M415.45 748.10h4.4M415.45 813.85h4.4M435.90 781.35V818.85M433.70 781.35h4.4M433.70 818.85h4.4M448.10 761.85V815.10M445.90 761.85h4.4M445.90 815.10h4.4M466.35 744.60V798.85M464.15 744.60h4.4M464.15 798.85h4.4M478.55 656.60V758.85M476.35 656.60h4.4M476.35 758.85h4.4M496.80 705.85V779.60M494.60 705.85h4.4M494.60 779.60h4.4M509.00 578.60V720.10M506.80 578.60h4.4M506.80 720.10h4.4M527.25 683.85V773.10M525.05 683.85h4.4M525.05 773.10h4.4M539.45 522.60V703.85M537.25 522.60h4.4M537.25 703.85h4.4M557.70 698.10V788.85M555.50 698.10h4.4M555.50 788.85h4.4M569.90 479.60V658.10M567.70 479.60h4.4M567.70 658.10h4.4M588.15 771.85V819.35M585.95 771.85h4.4M585.95 819.35h4.4M600.35 514.10V673.10M598.15 514.10h4.4M598.15 673.10h4.4M618.60 837.10V850.85M616.40 837.10h4.4M616.40 850.85h4.4M630.80 693.35V775.60M628.60 693.35h4.4M628.60 775.60h4.4M649.05 858.85V861.85M646.85 858.85h4.4M646.85 861.85h4.4M661.25 812.60V840.10M659.05 812.60h4.4M659.05 840.10h4.4" stroke="#151515" stroke-width="1.15" fill="none" opacity="0.9"/>
<polyline points="76.20,861.90 106.65,861.90 137.10,861.90 167.55,861.90 198.00,861.90 228.45,861.90 258.90,861.90 289.35,861.90 319.80,861.90 350.25,861.90 380.70,861.80 411.15,861.60 441.60,861.35 472.05,859.60 502.50,856.60 532.95,853.70 563.40,842.50 593.85,826.85 624.30,807.50 654.75,813.70" fill="none" stroke="#FFA500" stroke-width="2.1" stroke-linejoin="round"/>
<polyline points="76.20,862.10 106.65,862.10 137.10,862.10 167.55,862.10 198.00,862.10 228.45,862.10 258.90,862.10 289.35,862.10 319.80,862.10 350.25,862.10 380.70,862.10 411.15,861.90 441.60,861.60 472.05,860.60 502.50,857.90 532.95,855.00 563.40,846.85 593.85,833.10 624.30,816.85 654.75,808.10" fill="none" stroke="#1340AA" stroke-width="2.1" stroke-linejoin="round"/>
<polygon points="380.70,861.60 411.15,861.10 441.60,860.60 472.05,858.60 502.50,855.10 532.95,850.60 563.40,834.35 593.85,807.50 624.30,779.35 654.75,775.60 654.75,831.85 624.30,824.35 593.85,834.35 563.40,845.60 532.95,854.10 502.50,858.10 472.05,861.10 441.60,861.90 411.15,862.10 380.70,862.10" fill="#FFA500" fill-opacity="0.2"/>
<polygon points="380.70,861.60 411.15,861.60 441.60,861.10 472.05,859.60 502.50,856.60 532.95,853.10 563.40,840.60 593.85,821.60 624.30,800.60 654.75,786.85 654.75,826.85 624.30,828.60 593.85,840.60 563.40,848.60 532.95,856.10 502.50,859.10 472.05,861.60 441.60,862.10 411.15,862.40 380.70,862.40" fill="#1340AA" fill-opacity="0.2"/>
<text x="53.0" y="866.1" text-anchor="end" font-size="8.8" fill="#505050">0</text>
<text x="679.0" y="866.1" font-size="8.8" fill="#505050">0</text>
<text x="53.0" y="746.9" text-anchor="end" font-size="8.8" fill="#505050">500</text>
<text x="679.0" y="746.9" font-size="8.8" fill="#505050">50</text>
<text x="53.0" y="628.1" text-anchor="end" font-size="8.8" fill="#505050">1000</text>
<text x="679.0" y="628.1" font-size="8.8" fill="#505050">100</text>
<text x="53.0" y="509.5" text-anchor="end" font-size="8.8" fill="#505050">1500</text>
<text x="679.0" y="509.5" font-size="8.8" fill="#505050">150</text>
<text x="76.20" y="893.6" text-anchor="middle" font-size="8.8" fill="#505050">&lt;5</text>
<text x="106.65" y="893.6" text-anchor="middle" font-size="8.8" fill="#505050">5-9</text>
<text x="137.10" y="893.6" text-anchor="middle" font-size="8.8" fill="#505050">10-14</text>
<text x="167.55" y="893.6" text-anchor="middle" font-size="8.8" fill="#505050">15-19</text>
<text x="198.00" y="893.6" text-anchor="middle" font-size="8.8" fill="#505050">20-24</text>
<text x="228.45" y="893.6" text-anchor="middle" font-size="8.8" fill="#505050">25-29</text>
<text x="258.90" y="893.6" text-anchor="middle" font-size="8.8" fill="#505050">30-34</text>
<text x="289.35" y="893.6" text-anchor="middle" font-size="8.8" fill="#505050">35-39</text>
<text x="319.80" y="893.6" text-anchor="middle" font-size="8.8" fill="#505050">40-44</text>
<text x="350.25" y="893.6" text-anchor="middle" font-size="8.8" fill="#505050">45-49</text>
<text x="380.70" y="893.6" text-anchor="middle" font-size="8.8" fill="#505050">50-54</text>
<text x="411.15" y="893.6" text-anchor="middle" font-size="8.8" fill="#505050">55-59</text>
<text x="441.60" y="893.6" text-anchor="middle" font-size="8.8" fill="#505050">60-64</text>
<text x="472.05" y="893.6" text-anchor="middle" font-size="8.8" fill="#505050">65-69</text>
<text x="502.50" y="893.6" text-anchor="middle" font-size="8.8" fill="#505050">70-74</text>
<text x="532.95" y="893.6" text-anchor="middle" font-size="8.8" fill="#505050">75-79</text>
<text x="563.40" y="893.6" text-anchor="middle" font-size="8.8" fill="#505050">80-84</text>
<text x="593.85" y="893.6" text-anchor="middle" font-size="8.8" fill="#505050">85-89</text>
<text x="624.30" y="893.6" text-anchor="middle" font-size="8.8" fill="#505050">90-94</text>
<text x="654.75" y="893.6" text-anchor="middle" font-size="8.8" fill="#505050">95+</text>
<text x="365.5" y="907.2" text-anchor="middle" font-size="11" fill="#222">Age</text>
<text transform="translate(27.7,671) rotate(-90)" text-anchor="middle" font-size="11" fill="#222">Deaths Number</text>
<text transform="translate(698.6,670) rotate(90)" text-anchor="middle" font-size="11" fill="#222">Crude Deaths rate per 100,000</text>
<text x="725" y="618" font-size="11" fill="#222">Rate</text>
<line x1="725.5" x2="740" y1="633.7" y2="633.7" stroke="#F5A313" stroke-width="2.1"/>
<line x1="725.5" x2="740" y1="651.2" y2="651.2" stroke="#1A43A8" stroke-width="2.1"/>
<text x="748.4" y="636.9000000000001" font-size="8.8" fill="#333">1990</text>
<text x="748.4" y="654.5" font-size="8.8" fill="#333">2021</text>
<text x="725" y="692" font-size="11" fill="#222">Number</text>
<rect x="725" y="699" width="15.7" height="16" fill="#FFA500"/>
<rect x="725" y="716.8" width="15.7" height="16" fill="#1340AA"/>
<text x="748.4" y="710.7" font-size="8.8" fill="#333">1990</text>
<text x="748.4" y="729.0" font-size="8.8" fill="#333">2021</text>
<rect x="0" y="455" width="40" height="62" fill="#fff"/>
<text transform="translate(-0.2,490.6) scale(0.875,1)" font-size="47" fill="#000" stroke="#000" stroke-width="1.1">C</text>
</g>
<g>
<line x1="829.5" x2="1438.7" y1="813" y2="813" stroke="#f1f1f1" stroke-width="0.7"/>
<line x1="829.5" x2="1438.7" y1="714.6" y2="714.6" stroke="#f1f1f1" stroke-width="0.7"/>
<line x1="829.5" x2="1438.7" y1="616.3" y2="616.3" stroke="#f1f1f1" stroke-width="0.7"/>
<line x1="829.5" x2="1438.7" y1="518" y2="518" stroke="#f1f1f1" stroke-width="0.7"/>
<line x1="829.5" x2="1438.7" y1="862.2" y2="862.2" stroke="#eeeeee" stroke-width="1"/>
<line x1="829.5" x2="1438.7" y1="763.8" y2="763.8" stroke="#eeeeee" stroke-width="1"/>
<line x1="829.5" x2="1438.7" y1="665.5" y2="665.5" stroke="#eeeeee" stroke-width="1"/>
<line x1="829.5" x2="1438.7" y1="567.1" y2="567.1" stroke="#eeeeee" stroke-width="1"/>
<line x1="829.5" x2="1438.7" y1="468.75" y2="468.75" stroke="#eeeeee" stroke-width="1"/>
<line x1="847.50" x2="847.50" y1="460" y2="879.5" stroke="#eeeeee" stroke-width="1"/>
<line x1="877.66" x2="877.66" y1="460" y2="879.5" stroke="#eeeeee" stroke-width="1"/>
<line x1="907.82" x2="907.82" y1="460" y2="879.5" stroke="#eeeeee" stroke-width="1"/>
<line x1="937.98" x2="937.98" y1="460" y2="879.5" stroke="#eeeeee" stroke-width="1"/>
<line x1="968.14" x2="968.14" y1="460" y2="879.5" stroke="#eeeeee" stroke-width="1"/>
<line x1="998.30" x2="998.30" y1="460" y2="879.5" stroke="#eeeeee" stroke-width="1"/>
<line x1="1028.46" x2="1028.46" y1="460" y2="879.5" stroke="#eeeeee" stroke-width="1"/>
<line x1="1058.62" x2="1058.62" y1="460" y2="879.5" stroke="#eeeeee" stroke-width="1"/>
<line x1="1088.78" x2="1088.78" y1="460" y2="879.5" stroke="#eeeeee" stroke-width="1"/>
<line x1="1118.94" x2="1118.94" y1="460" y2="879.5" stroke="#eeeeee" stroke-width="1"/>
<line x1="1149.10" x2="1149.10" y1="460" y2="879.5" stroke="#eeeeee" stroke-width="1"/>
<line x1="1179.26" x2="1179.26" y1="460" y2="879.5" stroke="#eeeeee" stroke-width="1"/>
<line x1="1209.42" x2="1209.42" y1="460" y2="879.5" stroke="#eeeeee" stroke-width="1"/>
<line x1="1239.58" x2="1239.58" y1="460" y2="879.5" stroke="#eeeeee" stroke-width="1"/>
<line x1="1269.74" x2="1269.74" y1="460" y2="879.5" stroke="#eeeeee" stroke-width="1"/>
<line x1="1299.90" x2="1299.90" y1="460" y2="879.5" stroke="#eeeeee" stroke-width="1"/>
<line x1="1330.06" x2="1330.06" y1="460" y2="879.5" stroke="#eeeeee" stroke-width="1"/>
<line x1="1360.22" x2="1360.22" y1="460" y2="879.5" stroke="#eeeeee" stroke-width="1"/>
<line x1="1390.38" x2="1390.38" y1="460" y2="879.5" stroke="#eeeeee" stroke-width="1"/>
<line x1="1420.54" x2="1420.54" y1="460" y2="879.5" stroke="#eeeeee" stroke-width="1"/>
<rect x="836.70" y="610.00" width="10.3" height="252.00" fill="#FFA500"/>
<rect x="848.80" y="828.75" width="10.3" height="33.25" fill="#1340AA"/>
<rect x="866.86" y="847.00" width="10.3" height="15.00" fill="#FFA500"/>
<rect x="878.96" y="857.00" width="10.3" height="5.00" fill="#1340AA"/>
<rect x="897.02" y="852.00" width="10.3" height="10.00" fill="#FFA500"/>
<rect x="909.12" y="857.50" width="10.3" height="4.50" fill="#1340AA"/>
<rect x="927.18" y="838.75" width="10.3" height="23.25" fill="#FFA500"/>
<rect x="939.28" y="854.50" width="10.3" height="7.50" fill="#1340AA"/>
<rect x="957.34" y="835.50" width="10.3" height="26.50" fill="#FFA500"/>
<rect x="969.44" y="852.00" width="10.3" height="10.00" fill="#1340AA"/>
<rect x="987.50" y="838.25" width="10.3" height="23.75" fill="#FFA500"/>
<rect x="999.60" y="849.50" width="10.3" height="12.50" fill="#1340AA"/>
<rect x="1017.66" y="841.25" width="10.3" height="20.75" fill="#FFA500"/>
<rect x="1029.76" y="843.25" width="10.3" height="18.75" fill="#1340AA"/>
<rect x="1047.82" y="832.00" width="10.3" height="30.00" fill="#FFA500"/>
<rect x="1059.92" y="839.00" width="10.3" height="23.00" fill="#1340AA"/>
<rect x="1077.98" y="828.50" width="10.3" height="33.50" fill="#FFA500"/>
<rect x="1090.08" y="835.75" width="10.3" height="26.25" fill="#1340AA"/>
<rect x="1108.14" y="843.75" width="10.3" height="18.25" fill="#FFA500"/>
<rect x="1120.24" y="839.00" width="10.3" height="23.00" fill="#1340AA"/>
<rect x="1138.30" y="833.50" width="10.3" height="28.50" fill="#FFA500"/>
<rect x="1150.40" y="823.25" width="10.3" height="38.75" fill="#1340AA"/>
<rect x="1168.46" y="825.00" width="10.3" height="37.00" fill="#FFA500"/>
<rect x="1180.56" y="801.50" width="10.3" height="60.50" fill="#1340AA"/>
<rect x="1198.62" y="825.75" width="10.3" height="36.25" fill="#FFA500"/>
<rect x="1210.72" y="815.75" width="10.3" height="46.25" fill="#1340AA"/>
<rect x="1228.78" y="818.25" width="10.3" height="43.75" fill="#FFA500"/>
<rect x="1240.88" y="781.25" width="10.3" height="80.75" fill="#1340AA"/>
<rect x="1258.94" y="814.50" width="10.3" height="47.50" fill="#FFA500"/>
<rect x="1271.04" y="767.75" width="10.3" height="94.25" fill="#1340AA"/>
<rect x="1289.10" y="819.50" width="10.3" height="42.50" fill="#FFA500"/>
<rect x="1301.20" y="773.75" width="10.3" height="88.25" fill="#1340AA"/>
<rect x="1319.26" y="833.75" width="10.3" height="28.25" fill="#FFA500"/>
<rect x="1331.36" y="782.25" width="10.3" height="79.75" fill="#1340AA"/>
<rect x="1349.42" y="848.75" width="10.3" height="13.25" fill="#FFA500"/>
<rect x="1361.52" y="804.50" width="10.3" height="57.50" fill="#1340AA"/>
<rect x="1379.58" y="859.00" width="10.3" height="3.00" fill="#FFA500"/>
<rect x="1391.68" y="838.25" width="10.3" height="23.75" fill="#1340AA"/>
<rect x="1421.84" y="855.75" width="10.3" height="6.25" fill="#1340AA"/>
<path d="M841.85 479.30V695.75M839.65 479.30h4.4M839.65 695.75h4.4M853.95 813.00V845.75M851.75 813.00h4.4M851.75 845.75h4.4M872.01 839.50V852.00M869.81 839.50h4.4M869.81 852.00h4.4M884.11 853.25V859.00M881.91 853.25h4.4M881.91 859.00h4.4M902.17 846.50V854.50M899.97 846.50h4.4M899.97 854.50h4.4M914.27 854.50V859.00M912.07 854.50h4.4M912.07 859.00h4.4M932.33 828.50V845.75M930.13 828.50h4.4M930.13 845.75h4.4M944.43 850.75V857.00M942.23 850.75h4.4M942.23 857.00h4.4M962.49 822.00V843.25M960.29 822.00h4.4M960.29 843.25h4.4M974.59 847.00V854.50M972.39 847.00h4.4M972.39 854.50h4.4M992.65 827.00V845.00M990.45 827.00h4.4M990.45 845.00h4.4M1004.75 844.50V853.25M1002.55 844.50h4.4M1002.55 853.25h4.4M1022.81 830.50V847.00M1020.61 830.50h4.4M1020.61 847.00h4.4M1034.91 836.50V850.00M1032.71 836.50h4.4M1032.71 850.00h4.4M1052.97 818.50V840.00M1050.77 818.50h4.4M1050.77 840.00h4.4M1065.07 830.00V847.00M1062.87 830.00h4.4M1062.87 847.00h4.4M1083.13 816.00V837.00M1080.93 816.00h4.4M1080.93 837.00h4.4M1095.23 826.25V844.50M1093.03 826.25h4.4M1093.03 844.50h4.4M1113.29 835.50V848.25M1111.09 835.50h4.4M1111.09 848.25h4.4M1125.39 830.25V846.25M1123.19 830.25h4.4M1123.19 846.25h4.4M1143.45 823.25V840.75M1141.25 823.25h4.4M1141.25 840.75h4.4M1155.55 810.75V834.50M1153.35 810.75h4.4M1153.35 834.50h4.4M1173.61 811.00V834.50M1171.41 811.00h4.4M1171.41 834.50h4.4M1185.71 780.00V826.50M1183.51 780.00h4.4M1183.51 826.50h4.4M1203.77 812.00V835.00M1201.57 812.00h4.4M1201.57 835.00h4.4M1215.87 800.50V832.00M1213.67 800.50h4.4M1213.67 832.00h4.4M1233.93 802.00V829.00M1231.73 802.00h4.4M1231.73 829.00h4.4M1246.03 757.00V807.00M1243.83 757.00h4.4M1243.83 807.00h4.4M1264.09 796.75V827.50M1261.89 796.75h4.4M1261.89 827.50h4.4M1276.19 742.75V802.00M1273.99 742.75h4.4M1273.99 802.00h4.4M1294.25 803.25V831.50M1292.05 803.25h4.4M1292.05 831.50h4.4M1306.35 749.00V809.00M1304.15 749.00h4.4M1304.15 809.00h4.4M1324.41 818.75V842.75M1322.21 818.75h4.4M1322.21 842.75h4.4M1336.51 763.00V808.25M1334.31 763.00h4.4M1334.31 808.25h4.4M1354.57 843.00V853.00M1352.37 843.00h4.4M1352.37 853.00h4.4M1366.67 790.25V823.25M1364.47 790.25h4.4M1364.47 823.25h4.4M1384.73 857.00V860.50M1382.53 857.00h4.4M1382.53 860.50h4.4M1396.83 831.50V845.75M1394.63 831.50h4.4M1394.63 845.75h4.4M1414.89 861.00V862.00M1412.69 861.00h4.4M1412.69 862.00h4.4M1426.99 853.50V857.50M1424.79 853.50h4.4M1424.79 857.50h4.4" stroke="#151515" stroke-width="1.15" fill="none" opacity="0.9"/>
<polyline points="847.50,839.50 877.66,860.00 907.82,860.75 937.98,860.75 968.14,860.75 998.30,860.75 1028.46,860.75 1058.62,860.50 1088.78,859.00 1118.94,859.50 1149.10,857.00 1179.26,854.50 1209.42,853.25 1239.58,845.75 1269.74,835.75 1299.90,823.25 1330.06,807.00 1360.22,784.50 1390.38,762.50 1420.54,777.75" fill="none" stroke="#FFA500" stroke-width="2.1" stroke-linejoin="round"/>
<polyline points="847.50,855.50 877.66,861.60 907.82,861.80 937.98,861.80 968.14,861.00 998.30,861.00 1028.46,861.00 1058.62,861.00 1088.78,860.00 1118.94,860.00 1149.10,858.75 1179.26,856.50 1209.42,855.00 1239.58,850.75 1269.74,843.25 1299.90,834.50 1330.06,820.75 1360.22,800.75 1390.38,779.50 1420.54,769.50" fill="none" stroke="#1340AA" stroke-width="2.1" stroke-linejoin="round"/>
<polygon points="847.50,836.00 877.66,859.00 907.82,860.00 937.98,860.00 968.14,860.00 998.30,860.00 1028.46,860.00 1058.62,859.50 1088.78,858.00 1118.94,858.50 1149.10,856.00 1179.26,853.00 1209.42,852.00 1239.58,842.00 1269.74,829.50 1299.90,810.75 1330.06,782.00 1360.22,748.25 1390.38,715.75 1420.54,712.00 1420.54,809.50 1390.38,794.50 1360.22,807.00 1330.06,823.25 1299.90,832.00 1269.74,840.75 1239.58,848.25 1209.42,854.50 1179.26,856.00 1149.10,858.50 1118.94,860.50 1088.78,860.00 1058.62,861.30 1028.46,861.30 998.30,861.30 968.14,861.30 937.98,861.30 907.82,861.30 877.66,861.00 847.50,843.00" fill="#FFA500" fill-opacity="0.2"/>
<polygon points="847.50,853.50 877.66,861.00 907.82,861.20 937.98,860.50 968.14,860.50 998.30,860.50 1028.46,860.50 1058.62,860.50 1088.78,859.50 1118.94,859.50 1149.10,858.00 1179.26,855.50 1209.42,854.00 1239.58,848.50 1269.74,838.25 1299.90,822.00 1330.06,804.50 1360.22,779.50 1390.38,755.75 1420.54,732.00 1420.54,804.50 1390.38,803.25 1360.22,820.75 1330.06,834.50 1299.90,842.00 1269.74,847.00 1239.58,853.00 1209.42,856.00 1179.26,857.50 1149.10,859.50 1118.94,860.80 1088.78,860.80 1058.62,861.50 1028.46,861.50 998.30,861.50 968.14,861.50 937.98,861.50 907.82,862.00 877.66,862.00 847.50,857.50" fill="#1340AA" fill-opacity="0.2"/>
<text x="824.5" y="866.1" text-anchor="end" font-size="8.8" fill="#505050">0</text>
<text x="1444.0" y="866.1" font-size="8.8" fill="#505050">0</text>
<text x="824.5" y="767.7" text-anchor="end" font-size="8.8" fill="#505050">20000</text>
<text x="1444.0" y="767.7" font-size="8.8" fill="#505050">200</text>
<text x="824.5" y="669.4" text-anchor="end" font-size="8.8" fill="#505050">40000</text>
<text x="1444.0" y="669.4" font-size="8.8" fill="#505050">400</text>
<text x="824.5" y="571.0" text-anchor="end" font-size="8.8" fill="#505050">60000</text>
<text x="1444.0" y="571.0" font-size="8.8" fill="#505050">600</text>
<text x="824.5" y="472.6" text-anchor="end" font-size="8.8" fill="#505050">80000</text>
<text x="1444.0" y="472.6" font-size="8.8" fill="#505050">800</text>
<text x="847.50" y="893.6" text-anchor="middle" font-size="8.8" fill="#505050">&lt;5</text>
<text x="877.66" y="893.6" text-anchor="middle" font-size="8.8" fill="#505050">5-9</text>
<text x="907.82" y="893.6" text-anchor="middle" font-size="8.8" fill="#505050">10-14</text>
<text x="937.98" y="893.6" text-anchor="middle" font-size="8.8" fill="#505050">15-19</text>
<text x="968.14" y="893.6" text-anchor="middle" font-size="8.8" fill="#505050">20-24</text>
<text x="998.30" y="893.6" text-anchor="middle" font-size="8.8" fill="#505050">25-29</text>
<text x="1028.46" y="893.6" text-anchor="middle" font-size="8.8" fill="#505050">30-34</text>
<text x="1058.62" y="893.6" text-anchor="middle" font-size="8.8" fill="#505050">35-39</text>
<text x="1088.78" y="893.6" text-anchor="middle" font-size="8.8" fill="#505050">40-44</text>
<text x="1118.94" y="893.6" text-anchor="middle" font-size="8.8" fill="#505050">45-49</text>
<text x="1149.10" y="893.6" text-anchor="middle" font-size="8.8" fill="#505050">50-54</text>
<text x="1179.26" y="893.6" text-anchor="middle" font-size="8.8" fill="#505050">55-59</text>
<text x="1209.42" y="893.6" text-anchor="middle" font-size="8.8" fill="#505050">60-64</text>
<text x="1239.58" y="893.6" text-anchor="middle" font-size="8.8" fill="#505050">65-69</text>
<text x="1269.74" y="893.6" text-anchor="middle" font-size="8.8" fill="#505050">70-74</text>
<text x="1299.90" y="893.6" text-anchor="middle" font-size="8.8" fill="#505050">75-79</text>
<text x="1330.06" y="893.6" text-anchor="middle" font-size="8.8" fill="#505050">80-84</text>
<text x="1360.22" y="893.6" text-anchor="middle" font-size="8.8" fill="#505050">85-89</text>
<text x="1390.38" y="893.6" text-anchor="middle" font-size="8.8" fill="#505050">90-94</text>
<text x="1420.54" y="893.6" text-anchor="middle" font-size="8.8" fill="#505050">95+</text>
<text x="1134.1" y="907.2" text-anchor="middle" font-size="11" fill="#222">Age</text>
<text transform="translate(794,670.5) rotate(-90)" text-anchor="middle" font-size="11" fill="#222">DALYs Number</text>
<text transform="translate(1464.5,670) rotate(90)" text-anchor="middle" font-size="11" fill="#222">Crude DALYs rate per 100,000</text>
<text x="1491" y="618" font-size="11" fill="#222">Rate</text>
<line x1="1491.5" x2="1506" y1="633.7" y2="633.7" stroke="#F5A313" stroke-width="2.1"/>
<line x1="1491.5" x2="1506" y1="651.2" y2="651.2" stroke="#1A43A8" stroke-width="2.1"/>
<text x="1514.4" y="636.9000000000001" font-size="8.8" fill="#333">1990</text>
<text x="1514.4" y="654.5" font-size="8.8" fill="#333">2021</text>
<text x="1491" y="692" font-size="11" fill="#222">Number</text>
<rect x="1491" y="699" width="15.7" height="16" fill="#FFA500"/>
<rect x="1491" y="716.8" width="15.7" height="16" fill="#1340AA"/>
<text x="1514.4" y="710.7" font-size="8.8" fill="#333">1990</text>
<text x="1514.4" y="729.0" font-size="8.8" fill="#333">2021</text>
<text transform="translate(754.5,490.6) scale(1.02,1)" font-size="46" fill="#000" stroke="#000" stroke-width="1.1">D</text>
</g>
</svg>
</body></html>
